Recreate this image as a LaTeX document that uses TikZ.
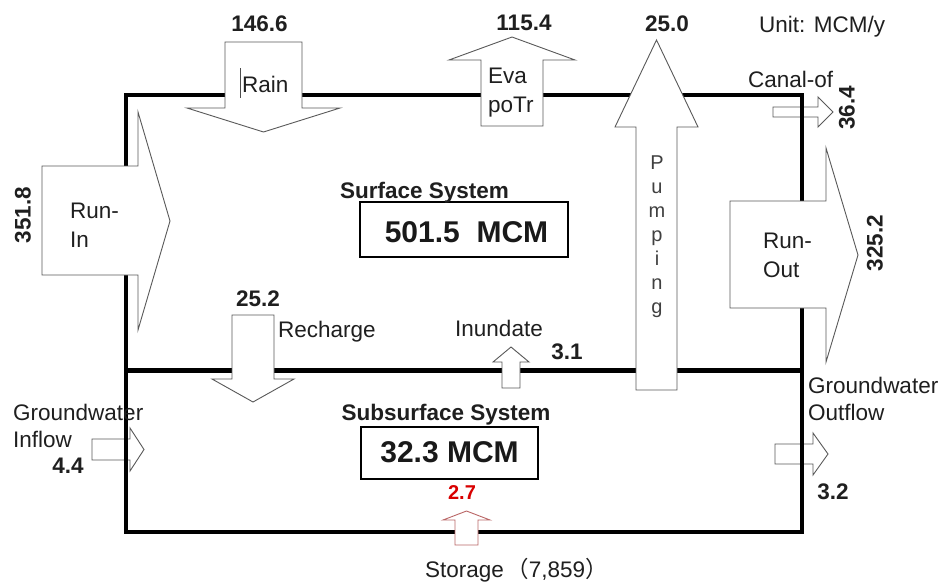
\documentclass[tikz,border=0pt]{standalone}
\usepackage{fontspec}
\setmainfont{Liberation Sans}
\newfontfamily\cjk{Noto Sans CJK SC}
\begin{document}
\begin{tikzpicture}[x=1pt,y=-1pt,
  lbl/.style={font=\fontsize{22.5}{27}\selectfont, text=black!88, inner sep=0pt},
  num/.style={font=\fontsize{22.5}{27}\selectfont\bfseries, text=black!88, inner sep=0pt},
  big/.style={font=\fontsize{30}{36}\selectfont\bfseries, text=black!90, inner sep=0pt},
  sys/.style={font=\fontsize{22.5}{27}\selectfont\bfseries, text=black!88, inner sep=0pt},
  pump/.style={font=\fontsize{20}{24}\selectfont, text=black!75, inner sep=0pt},
  barrow/.style={draw=black!65, line width=0.9pt, fill=white, line join=miter},
  redarrow/.style={draw=red!55!black!60!white, line width=0.9pt, fill=white},
  frameline/.style={line width=4.5pt, draw=black},
  valbox/.style={line width=2.6pt, draw=black}]
\useasboundingbox (0,0) rectangle (944,586);
\fill[white] (0,0) rectangle (944,586);

% arrows lying behind the frame
\draw[barrow] (773,107) -- (818,107) -- (818,97) -- (833,112) -- (818,127) -- (818,117) -- (773,117) -- cycle;
\draw[barrow] (92,439) -- (130,439) -- (130,428) -- (144,449.5) -- (130,471) -- (130,460) -- (92,460) -- cycle;
\draw[barrow] (775,444) -- (813,444) -- (813,433) -- (828,454) -- (813,475) -- (813,464) -- (775,464) -- cycle;

% frame
\draw[frameline] (126,95) rectangle (802,532);
\draw[frameline] (126,370.5) -- (802,370.5);

% arrows in front of the frame
% Rain
\draw[barrow] (225,42) -- (302,42) -- (302,108) -- (340,108) -- (263.5,132) -- (187,108) -- (225,108) -- cycle;
% Evapotranspiration
\draw[barrow] (481,126) -- (543,126) -- (543,60) -- (575,60) -- (512,37) -- (449,60) -- (481,60) -- cycle;
% Pumping
\draw[barrow] (636,390) -- (677,390) -- (677,127) -- (698,127) -- (656.5,40) -- (615,127) -- (636,127) -- cycle;
% Run-In
\draw[barrow] (42,166) -- (138,166) -- (138,112) -- (170,221) -- (138,330) -- (138,275) -- (42,275) -- cycle;
% Run-Out
\draw[barrow] (730,201) -- (826,201) -- (826,148) -- (858,255) -- (826,362) -- (826,308) -- (730,308) -- cycle;
% Recharge
\draw[barrow] (232,315) -- (274,315) -- (274,379) -- (294,379) -- (253,402) -- (212,379) -- (232,379) -- cycle;
% Inundate
\draw[barrow] (502,388) -- (520,388) -- (520,362) -- (529,362) -- (511,347) -- (493,362) -- (502,362) -- cycle;
% Storage
\draw[redarrow] (455,545) -- (478,545) -- (478,520) -- (490,520) -- (466.5,511) -- (443,520) -- (455,520) -- cycle;

% cursor mark
\draw[black!70, line width=0.8pt] (240,68) -- (240,98);

% value boxes
\draw[valbox] (360,202) rectangle (568,257);
\draw[valbox] (361,427) rectangle (538,479);

% texts
\node[num, anchor=base] (vrain) at (259.5,32) {146.6};
\node[lbl, anchor=base west] (train) at (242,92) {Rain};
\node[num, anchor=base] (veva) at (524,31) {115.4};
\node[lbl, anchor=base west] (teva) at (488,83) {Eva};
\node[lbl, anchor=base west] (tpotr) at (488,112) {poTr};
\node[num, anchor=base] (vpump) at (667,32) {25.0};
\node[lbl, anchor=base west] (unit) at (759,33) {Unit: MCM/y};
\node[lbl, anchor=base west] (tcanal) at (748,87) {Canal-of};
\node[num, rotate=90] (vcanal) at (847,108) {36.4};
\node[num, rotate=90] (vrunin) at (23,215) {351.8};
\node[lbl, anchor=base west] (trunin1) at (70,218) {Run-};
\node[lbl, anchor=base west] (trunin2) at (70,247) {In};
\node[sys, anchor=base] (tsurf) at (424.5,198) {Surface System};
\node[big, anchor=base] (vsurf) at (466.5,242) {501.5\hspace{0.28em} MCM};
\node[lbl, anchor=base west] (trunout1) at (763,248) {Run-};
\node[lbl, anchor=base west] (trunout2) at (763,277) {Out};
\node[num, rotate=90] (vrunout) at (875,243) {325.2};
\foreach \ch [count=\i] in {P,u,m,p,i,n,g}
  \node[pump, anchor=base] (pump\i) at ({657},{169+24*(\i-1)}) {\ch};
\node[num, anchor=base] (vrech) at (258,306) {25.2};
\node[lbl, anchor=base west] (trech) at (278,337) {Recharge};
\node[lbl, anchor=base west] (tinun) at (455,336) {Inundate};
\node[num, anchor=base] (vinun) at (567,359) {3.1};
\node[sys, anchor=base] (tsub) at (446,420) {Subsurface System};
\node[big, anchor=base] (vsub) at (449.5,462) {32.3 MCM};
\node[num, anchor=base, text=red!85!black, font=\fontsize{20}{24}\selectfont\bfseries] (vstor) at (462,499) {2.7};
\node[lbl, anchor=base west] (tstor) at (425,577) {Storage\hspace{0.1em}{\cjk （}7,859{\cjk ）}};
\node[lbl, anchor=base west] (tgwin1) at (13,420) {Groundwater};
\node[lbl, anchor=base west] (tgwin2) at (13,447) {Inflow};
\node[num, anchor=base] (vgwin) at (68,473) {4.4};
\node[lbl, anchor=base west] (tgwout1) at (808,393) {Groundwater};
\node[lbl, anchor=base west] (tgwout2) at (808,420) {Outflow};
\node[num, anchor=base] (vgwout) at (833,499) {3.2};
\end{tikzpicture}
\end{document}
